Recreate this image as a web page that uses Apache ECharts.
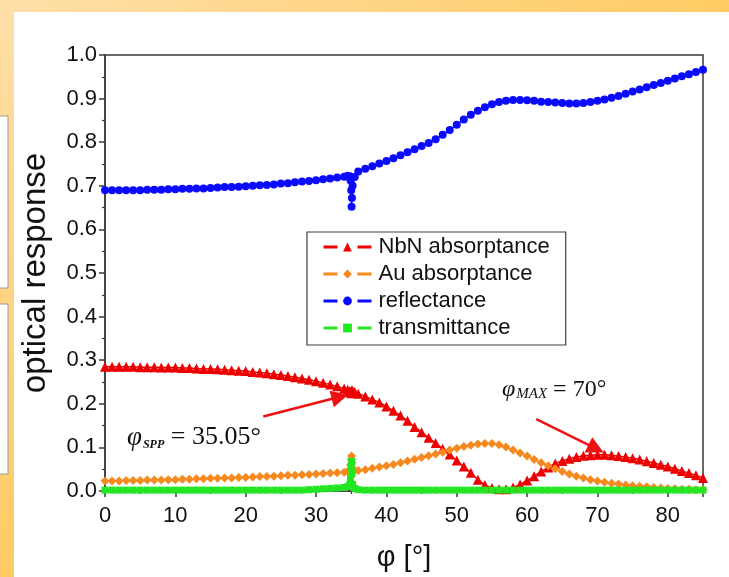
<!DOCTYPE html>
<html><head><meta charset="utf-8">
<script src="https://cdn.jsdelivr.net/npm/echarts@6/dist/echarts.min.js"></script>
<style>html,body{margin:0;padding:0;background:#fff;overflow:hidden}#c{width:729px;height:577px}</style>
</head><body><div id="c"></div>
<script>
// incidence angle (deg); dense sampling around the SPP resonance
const angles = [0,1,2,3,4,5,6,7,8,9,10,11,12,13,14,15,16,17,18,19,20,21,22,23,24,25,26,27,28,29,30,31,32,33,34,
  34.5,34.8,34.9,35,35.05,35.1,35.2,35.5,
  36,37,38,39,40,41,42,43,44,45,46,47,48,49,50,51,52,53,54,55,56,57,58,59,60,61,62,63,64,65,66,67,68,69,70,71,72,73,74,75,76,77,78,79,80,81,82,83,84,85];
const nbnAbs = [.285,.285,.285,.285,.285,.284,.284,.284,.283,.283,.283,.282,.282,.281,.280,.280,.279,.278,.277,.276,.275,.273,.272,.270,.268,.266,.264,.261,.258,.255,.252,.248,.244,.240,.235,
  .232,.229,.227,.224,.228,.231,.229,.227,
  .223,.217,.210,.203,.194,.184,.173,.161,.147,.135,.122,.110,.097,.084,.070,.056,.042,.026,.014,.007,.004,.004,.008,.015,.024,.034,.045,.054,.063,.069,.074,.078,.081,.082,.083,.083,.082,.080,.078,.075,.072,.068,.064,.060,.056,.051,.046,.041,.036,.030];
const auAbs = [.023,.023,.023,.024,.024,.024,.025,.025,.025,.026,.026,.027,.027,.028,.028,.029,.029,.030,.030,.031,.031,.032,.033,.033,.034,.035,.036,.036,.037,.038,.039,.040,.041,.042,.043,
  .045,.050,.060,.072,.080,.065,.052,.047,
  .047,.049,.052,.055,.058,.061,.065,.069,.073,.077,.081,.085,.089,.094,.098,.102,.105,.108,.109,.109,.106,.101,.094,.087,.080,.072,.065,.058,.051,.045,.039,.034,.030,.026,.023,.020,.018,.016,.014,.012,.011,.010,.008,.007,.006,.005,.004,.004,.003,.003];
const reflectance = [.690,.690,.690,.690,.690,.690,.691,.691,.691,.692,.692,.693,.693,.694,.694,.695,.696,.697,.697,.698,.699,.700,.701,.702,.703,.705,.706,.708,.710,.711,.713,.715,.717,.719,.721,
  .723,.722,.712,.690,.652,.672,.700,.720,
  .733,.739,.745,.751,.757,.763,.770,.777,.784,.791,.798,.807,.817,.828,.840,.852,.863,.872,.880,.887,.892,.895,.897,.897,.896,.895,.893,.892,.891,.890,.889,.889,.890,.892,.895,.898,.902,.906,.911,.916,.921,.926,.931,.936,.941,.946,.951,.956,.961,.966];
const transmittance = [.002,.002,.002,.002,.002,.002,.002,.002,.002,.002,.002,.002,.002,.002,.002,.002,.002,.002,.002,.002,.002,.002,.002,.002,.002,.002,.002,.002,.002,.003,.004,.005,.006,.007,.008,
  .010,.015,.030,.055,.068,.040,.015,.006,
  .003,.002,.002,.002,.002,.002,.002,.002,.002,.002,.002,.002,.002,.002,.002,.002,.002,.002,.002,.002,.002,.002,.002,.002,.002,.002,.002,.002,.002,.002,.002,.002,.002,.002,.002,.002,.002,.002,.002,.002,.002,.002,.002,.002,.002,.002,.002,.002,.002,.002];
const seriesNames = ['NbN absorptance','Au absorptance','reflectance','transmittance'];
const arrowSPP = [[22.5, 0.171],[33.4, 0.216]];
const arrowMAX = [[61.3, 0.165],[69.8, 0.097]];

function pairs(ys){ return angles.map((a,i)=>[a, ys[i]]); }

const chart = echarts.init(document.getElementById('c'), null, {renderer:'canvas'});
const FONT = 'Liberation Sans, Arial, sans-serif';
const SERIF = 'Liberation Serif, Times New Roman, serif';
const mk = (name, data, color, symbol, size, extra) => Object.assign({
  name, type:'line', data: pairs(data), symbol, symbolSize: size, showSymbol:true,
  itemStyle:{color}, lineStyle:{color, width:1.5}, animation:false
}, extra||{});

chart.setOption({
  animation:false,
  backgroundColor:'#ffffff',
  graphic:[
    {type:'rect', z:-10, silent:true, shape:{x:0,y:0,width:729,height:12},
     style:{fill:new echarts.graphic.LinearGradient(0,0,1,0,[{offset:0,color:'#fedfa8'},{offset:1,color:'#ffcb63'}])}},
    {type:'rect', z:-10, silent:true, shape:{x:0,y:0,width:14,height:577},
     style:{fill:new echarts.graphic.LinearGradient(0,0,0,1,[{offset:0,color:'#fedfa8'},{offset:1,color:'#ffca62'}])}},
    {type:'rect', z:-9, silent:true, shape:{x:-2,y:116,width:10,height:172}, style:{fill:'#ffffff',stroke:'#9a9a9a',lineWidth:1}},
    {type:'rect', z:-9, silent:true, shape:{x:-2,y:304,width:10,height:170}, style:{fill:'#ffffff',stroke:'#9a9a9a',lineWidth:1}},
    {type:'text', left:127, top:424, z:50, style:{
      text:'{p|φ}{s|SPP}{e| = 35.05°}',
      rich:{p:{fontFamily:SERIF,fontStyle:'italic',fontSize:27,fill:'#111'},
            s:{fontFamily:SERIF,fontStyle:'italic',fontWeight:'bold',fontSize:12,fill:'#111',verticalAlign:'bottom',padding:[8,0,0,1]},
            e:{fontFamily:SERIF,fontSize:26,fill:'#111'}}}},
    {type:'text', left:502, top:378, z:50, style:{
      text:'{p|φ}{s|MAX}{e| = 70°}',
      rich:{p:{fontFamily:SERIF,fontStyle:'italic',fontSize:24,fill:'#111'},
            s:{fontFamily:SERIF,fontStyle:'italic',fontSize:15,fill:'#111',verticalAlign:'bottom',padding:[6,0,0,1]},
            e:{fontFamily:SERIF,fontSize:24,fill:'#111'}}}}
  ],
  grid:{left:105, right:26, top:55, bottom:84, show:true, borderColor:'#383838', borderWidth:1.5, backgroundColor:'transparent'},
  legend:{
    orient:'vertical', left:307, top:232, data:seriesNames,
    itemWidth:48, itemHeight:11, itemGap:5,
    padding:[4,16,6,15],
    borderColor:'#404040', borderWidth:1.2, backgroundColor:'#fff',
    textStyle:{fontFamily:FONT, fontSize:22, color:'#111', padding:[0,0,0,2]},
    lineStyle:{width:3, type:[14,20]}
  },
  xAxis:{
    type:'value', min:0, max:85, interval:10,
    name:'φ [°]', nameLocation:'middle', nameGap:52,
    nameTextStyle:{fontFamily:FONT, fontSize:29, color:'#111'},
    axisLine:{show:true, onZero:false, lineStyle:{color:'#383838', width:1.5}},
    axisTick:{show:true, inside:false, length:6, lineStyle:{color:'#383838', width:1.5}},
    minorTick:{show:true, splitNumber:2, length:3, lineStyle:{color:'#383838', width:1.2}},
    axisLabel:{fontFamily:FONT, fontSize:22, color:'#111', margin:14, showMaxLabel:false},
    splitLine:{show:false}
  },
  yAxis:{
    type:'value', min:0, max:1, interval:0.1,
    name:'optical response', nameLocation:'middle', nameGap:53,
    nameTextStyle:{fontFamily:FONT, fontSize:33, color:'#111'},
    axisLine:{show:true, onZero:false, lineStyle:{color:'#383838', width:1.5}},
    axisTick:{show:true, inside:false, length:6, lineStyle:{color:'#383838', width:1.5}},
    minorTick:{show:true, splitNumber:2, length:3, lineStyle:{color:'#383838', width:1.2}},
    axisLabel:{fontFamily:FONT, fontSize:22, color:'#111', margin:8, formatter:v=>v.toFixed(1)},
    splitLine:{show:false}
  },
  series:[
    mk(seriesNames[0], nbnAbs, '#ee0000', 'triangle', 10, {
      markLine:{silent:true, animation:false, symbol:['none','triangle'], symbolSize:16,
        label:{show:false}, lineStyle:{color:'#ee1111', width:2.5, type:'solid'},
        data:[[{coord:arrowSPP[0], symbol:'none'},{coord:arrowSPP[1], symbol:'triangle', symbolSize:17}],
              [{coord:arrowMAX[0], symbol:'none'},{coord:arrowMAX[1], symbol:'triangle', symbolSize:17}]]}
    }),
    mk(seriesNames[1], auAbs, '#f7891f', 'diamond', 9),
    mk(seriesNames[2], reflectance, '#0a0aff', 'circle', 8),
    mk(seriesNames[3], transmittance, '#22e622', 'rect', 7, {lineStyle:{color:'#22e622', width:3}})
  ]
});
</script></body></html>
